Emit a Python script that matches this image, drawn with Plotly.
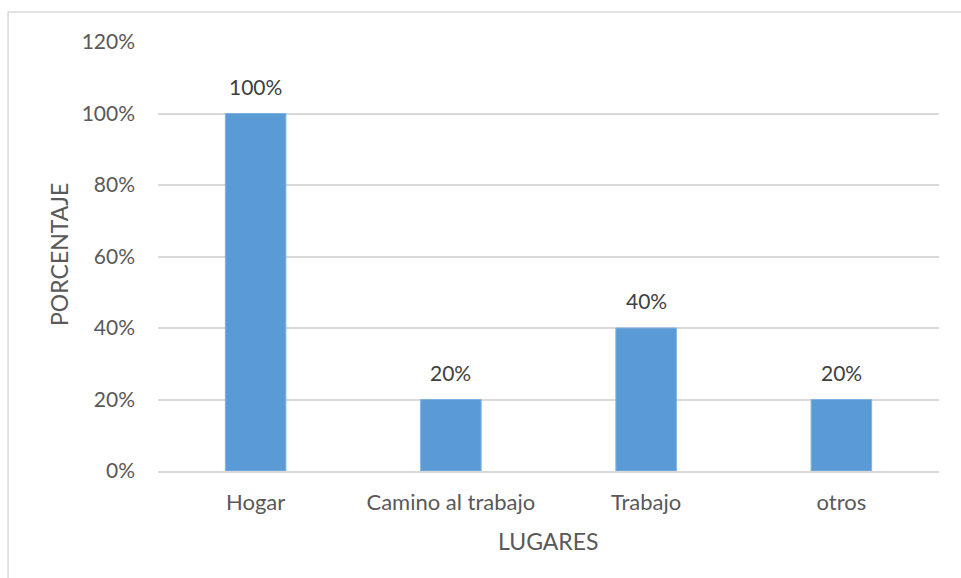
import plotly.graph_objects as go

# Lugares y porcentaje de respuestas
lugares = ["Hogar", "Camino al trabajo", "Trabajo", "otros"]
porcentajes = [1.00, 0.20, 0.40, 0.20]
etiquetas_y = ["0%", "20%", "40%", "60%", "80%", "100%", "120%"]
valores_y = [0, 0.2, 0.4, 0.6, 0.8, 1.0, 1.2]

FONT = "Lato, 'Open Sans', sans-serif"
GRIS = "#595959"

fig = go.Figure(
    go.Bar(
        x=lugares,
        y=porcentajes,
        marker=dict(color="#5B9BD5", line=dict(color="#7FB2E0", width=1)),
        hoverinfo="skip",
    )
)

# Etiquetas de valor sobre cada barra
for lugar, p in zip(lugares, porcentajes):
    fig.add_annotation(
        x=lugar, y=p, text=f"{p:.0%}", showarrow=False,
        yanchor="bottom", yshift=13,
        font=dict(family=FONT, size=21, color="#404040"),
    )

# Títulos de los ejes
fig.add_annotation(
    xref="paper", yref="paper", x=0.4995, y=-0.163, text="LUGARES",
    showarrow=False, yanchor="middle", xanchor="center",
    font=dict(family=FONT, size=23, color=GRIS),
)
fig.add_annotation(
    xref="paper", yref="paper", x=-0.126, y=0.505, text="PORCENTAJE",
    showarrow=False, textangle=-90, yanchor="middle", xanchor="center",
    font=dict(family=FONT, size=23, color=GRIS),
)

# Marco del área del gráfico
fig.add_shape(
    type="rect", xref="paper", yref="paper",
    x0=-0.192, x1=1.1, y0=-0.4, y1=1.07,
    line=dict(color="#D9D9D9", width=1.5), fillcolor="rgba(0,0,0,0)",
    layer="below",
)

fig.update_layout(
    width=961, height=578,
    margin=dict(l=158, r=22, t=42, b=107),
    paper_bgcolor="white", plot_bgcolor="white",
    bargap=0.69, showlegend=False,
    font=dict(family=FONT, size=21, color=GRIS),
)
fig.update_xaxes(
    showgrid=False, showline=True, linecolor="#D9D9D9", linewidth=1.5,
    ticks="", ticklabelstandoff=11,
    tickfont=dict(family=FONT, size=22, color=GRIS),
)
fig.update_yaxes(
    range=[0, 1.2], tickvals=valores_y, ticktext=etiquetas_y,
    showgrid=True, gridcolor="#D9D9D9", gridwidth=1.5,
    zeroline=False, showline=False, ticks="", ticklabelstandoff=22,
    tickfont=dict(family=FONT, size=21, color=GRIS),
)

fig.write_html("out.html")
